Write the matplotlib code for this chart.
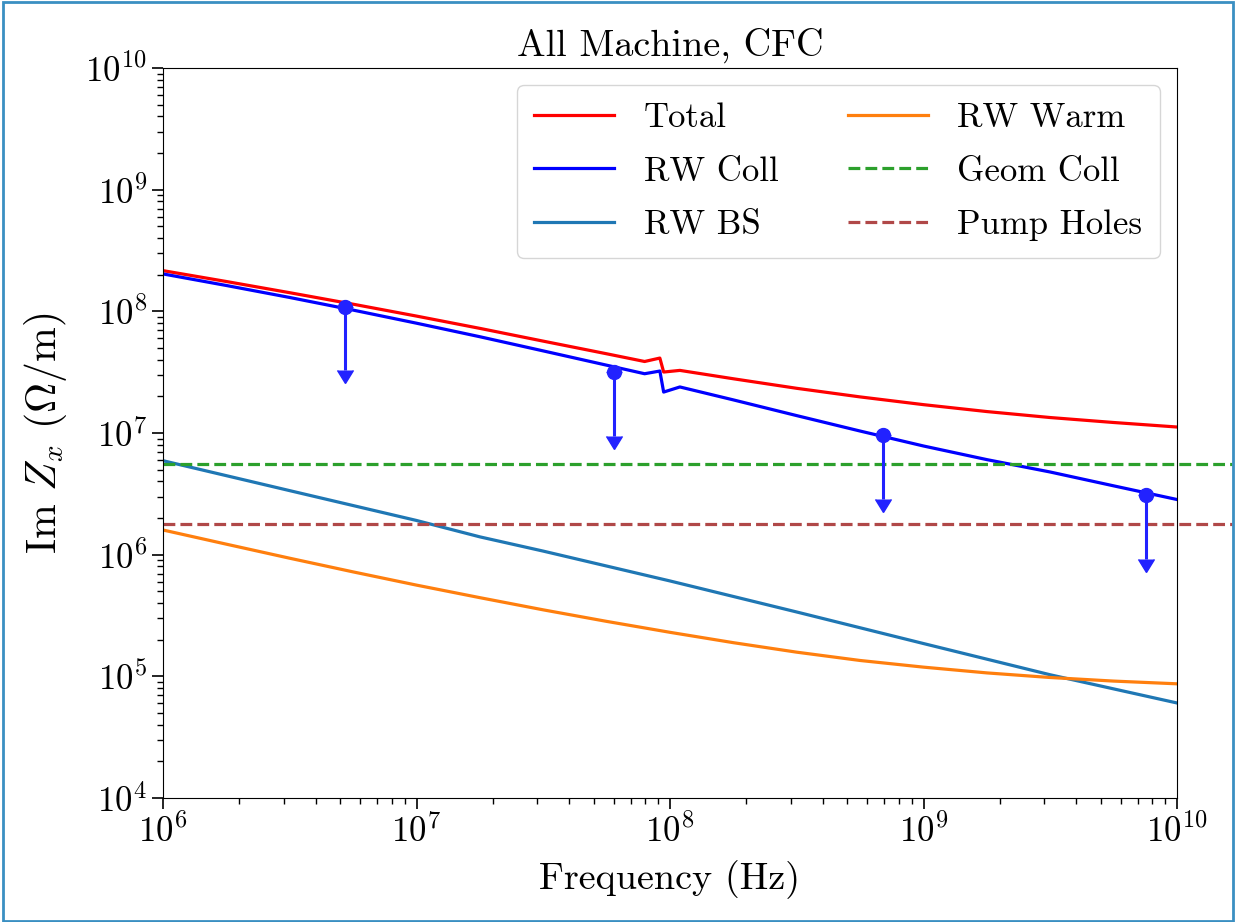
import numpy as np
import matplotlib
matplotlib.use("Agg")
import matplotlib.pyplot as plt
from matplotlib.patches import Rectangle

plt.rcParams["font.family"] = "serif"
plt.rcParams["font.serif"] = ["cmr10", "DejaVu Serif"]
plt.rcParams["mathtext.fontset"] = "cm"
plt.rcParams["axes.formatter.use_mathtext"] = True

# DATA

freq_q = [1e6, 1.78e6, 3.16e6, 5.62e6, 1e7, 1.78e7, 3.16e7, 5.62e7, 1e8,
          1.78e8, 3.16e8, 5.62e8, 1e9, 1.78e9, 3.16e9, 5.62e9, 1e10]

freq_step = [1e6, 1.78e6, 3.16e6, 5.62e6, 1e7, 1.78e7, 3.16e7, 5.62e7, 7.94e7,
             9.12e7, 9.44e7, 1.094e8, 1.78e8, 3.16e8, 5.62e8, 1e9, 1.78e9,
             3.16e9, 5.62e9, 1e10]

total = [2.16e8, 1.758e8, 1.423e8, 1.145e8, 9.14e7, 7.24e7, 5.69e7, 4.48e7, 3.87e7,
         4.13e7, 3.17e7, 3.27e7, 2.79e7, 2.33e7, 1.98e7, 1.71e7, 1.50e7,
         1.34e7, 1.22e7, 1.12e7]

rw_coll = [2.03e8, 1.63e8, 1.30e8, 1.024e8, 7.99e7, 6.18e7, 4.73e7, 3.61e7, 3.07e7,
           3.23e7, 2.17e7, 2.39e7, 1.87e7, 1.39e7, 1.038e7, 7.82e6, 6.04e6,
           4.78e6, 3.68e6, 2.84e6]

freq_bs = [1e6, 3.16e6, 1e7, 1.78e7, 3.16e7, 1e8, 3.16e8, 1e9, 3.16e9, 1e10]
rw_bs = [5.92e6, 3.36e6, 1.91e6, 1.40e6, 1.07e6, 6.08e5, 3.38e5, 1.86e5, 1.03e5, 6.04e4]

rw_warm = [1.595e6, 1.219e6, 9.35e5, 7.22e5, 5.62e5, 4.43e5, 3.52e5, 2.83e5, 2.30e5,
           1.89e5, 1.58e5, 1.35e5, 1.19e5, 1.067e5, 9.78e4, 9.14e4, 8.68e4]

geom_coll = 5.55e6
pump_holes = 1.79e6

# upper limits (blue points with arrows)
lim_freq = [5.2e6, 6.0e7, 6.9e8, 7.55e9]
lim_val = [1.09e8, 3.17e7, 9.63e6, 3.09e6]

# PLOT

fig = plt.figure(figsize=(12.36, 9.22), dpi=100)
ax = fig.add_subplot(111)
fig.subplots_adjust(left=163/1236, right=1177/1236, bottom=124/922, top=854/922)

lw = 2.3
ax.plot(freq_step, total, color="red", lw=lw, label="Total")
ax.plot(freq_step, rw_coll, color="blue", lw=lw, label="RW Coll")
ax.plot(freq_bs, rw_bs, color="#1f77b4", lw=lw, label="RW BS")
ax.plot(freq_q, rw_warm, color="#ff7f0e", lw=lw, label="RW Warm")
ax.axhline(geom_coll, xmin=0, xmax=1.054, color="#2ca02c", ls="--", lw=lw,
           clip_on=False, label="Geom Coll")
ax.axhline(pump_holes, xmin=0, xmax=1.054, color="#b04848", ls="--", lw=lw,
           clip_on=False, label="Pump Holes")

lim_err = [0.7 * v for v in lim_val]
ax.errorbar(lim_freq, lim_val, yerr=lim_err, uplims=True, fmt="o",
            color="#2222ff", ms=10, elinewidth=2.2, capsize=6)

ax.set_xscale("log")
ax.set_yscale("log")
ax.set_xlim(1e6, 1e10)
ax.set_ylim(1e4, 1e10)

ax.set_title("All Machine, CFC", fontsize=27.5, pad=9)
ax.set_xlabel("Frequency (Hz)", fontsize=27.5, labelpad=8)
ax.set_ylabel(r"Im $Z_x$ ($\Omega$/m)", fontsize=30, labelpad=12)
ax.tick_params(axis="both", which="major", labelsize=25, length=8, width=1.2)
ax.tick_params(axis="both", which="minor", length=4.5, width=1)

ax.legend(ncol=2, loc="upper right", fontsize=25, handlelength=2.3,
          handletextpad=0.85, columnspacing=2.0, labelspacing=0.62,
          borderpad=0.5)

# frame around the figure
fig.patches.append(Rectangle((3/1236, 1/922), 1230/1236, 919/922,
                             transform=fig.transFigure, fill=False,
                             edgecolor="#3a8fc2", lw=2))

plt.savefig("out.png", dpi=100)
